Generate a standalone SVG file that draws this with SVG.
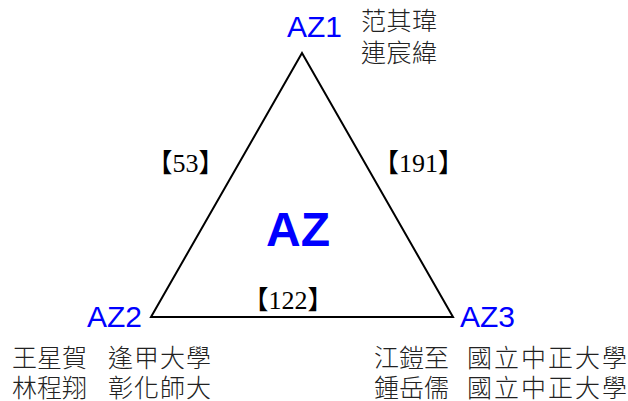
<svg xmlns="http://www.w3.org/2000/svg" width="628" height="401" viewBox="0 0 628 401">
<style>
.az{font-family:"Liberation Sans",Arial,sans-serif;font-size:30px;fill:#0000ff}
.cjk{font-family:"Noto Sans CJK TC","Noto Sans CJK SC",sans-serif;font-size:25px;fill:#222;font-weight:300}
.num{font-family:"Liberation Serif","Noto Sans CJK TC",serif;font-size:26px;fill:#000;text-anchor:middle}
</style>
<rect width="628" height="401" fill="#fff"/>
<g id="connectors">
<polygon points="302,53 151,317 453,317" fill="none" stroke="#000" stroke-width="2"/>
<text class="num" x="185.5" y="172">【53】</text>
<text class="num" x="418.5" y="172">【191】</text>
<text class="num" x="288" y="309">【122】</text>
</g>
<g id="center"><text x="298" y="246" text-anchor="middle" font-family="Liberation Sans,Arial,sans-serif" font-weight="bold" font-size="48" fill="#0000ff">AZ</text></g>
<g id="az1">
<text class="az" x="287" y="37">AZ1</text>
<text class="cjk" x="361" y="30" textLength="76">范其瑋</text>
<text class="cjk" x="361" y="62" textLength="76">連宸緯</text>
</g>
<g id="az2">
<text class="az" x="87" y="327">AZ2</text>
<text class="cjk" x="12" y="367" textLength="75">王星賀</text>
<text class="cjk" x="108" y="367" textLength="103">逢甲大學</text>
<text class="cjk" x="12" y="397" textLength="75">林程翔</text>
<text class="cjk" x="108" y="397" textLength="103">彰化師大</text>
</g>
<g id="az3">
<text class="az" x="460" y="327">AZ3</text>
<text class="cjk" x="374" y="367" textLength="75">江鎧至</text>
<text class="cjk" x="467" y="367" textLength="160">國立中正大學</text>
<text class="cjk" x="374" y="397" textLength="75">鍾岳儒</text>
<text class="cjk" x="467" y="397" textLength="160">國立中正大學</text>
</g>
</svg>
